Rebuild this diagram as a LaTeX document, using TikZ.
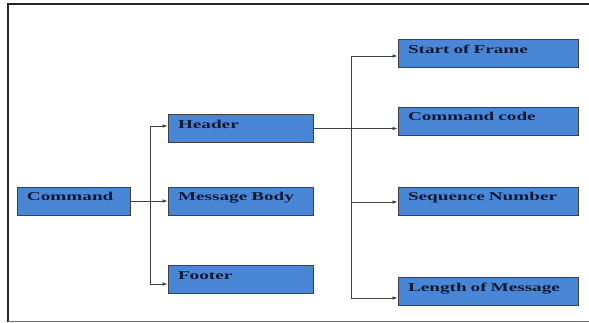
\documentclass[tikz,border=0pt]{standalone}
\usepackage{fontspec}
\newfontfamily\boxfont[FakeStretch=1.6]{Liberation Serif Bold}
\usetikzlibrary{arrows.meta, positioning}
\definecolor{boxblue}{RGB}{74,134,214}
\definecolor{boxtext}{RGB}{20,24,48}

\begin{document}
\begin{tikzpicture}[x=1pt,y=-1pt,
    block/.style={draw=black!75, line width=0.8pt, fill=boxblue,
      minimum height=28pt, inner xsep=10pt, inner ysep=0pt,
      text height=8pt, text depth=8pt, align=left, text=boxtext,
      font=\boxfont\fontsize{12}{14}\selectfont},
    small/.style={block, text width=93pt},
    mid/.style={block, text width=125pt},
    wide/.style={block, text width=160pt},
    link/.style={draw=black!75, line width=0.7pt, -{Latex[length=5pt,width=3.5pt]}}]
      \useasboundingbox (0,0) rectangle (589,323);
      % frame
      \draw[line width=2pt, black!85] (589,4.5) -- (8,4.5) -- (8,322);
      \draw[line width=1.5pt, black!55] (8,321.5) -- (589,321.5);
      % first level
      \node[small] (cmd) at (73.5,201) {Command};
      \node[mid] (header) at (240.5,128.5) {Header};
      \node[mid] (body) at (240.5,201) {Message Body};
      \node[mid] (footer) at (240.5,279) {Footer};
      % header fields
      \node[wide] (sof) at (488,53.5) {Start of Frame};
      \node[wide] (code) at (488,121) {Command code};
      \node[wide] (seq) at (488,201) {Sequence Number};
      \node[wide] (len) at (488,291) {Length of Message};
      \coordinate (fork1) at ([xshift=20pt]cmd.east);
      \coordinate (fork2) at ([xshift=38pt]header.east);
      \draw[link] (cmd.east) -- (body.west);
      \draw[link] (fork1) |- ([yshift=2.5pt]header.west);
      \draw[link] (fork1) |- ([yshift=-5pt]footer.west);
      \draw[link] (header.east) -- (header.east -| code.west);
      \draw[link] (fork2) |- ([yshift=-2.5pt]sof.west);
      \draw[link] (fork2) |- ([yshift=-1pt]seq.west);
      \draw[link] (fork2) |- ([yshift=-7pt]len.west);
\end{tikzpicture}
\end{document}
